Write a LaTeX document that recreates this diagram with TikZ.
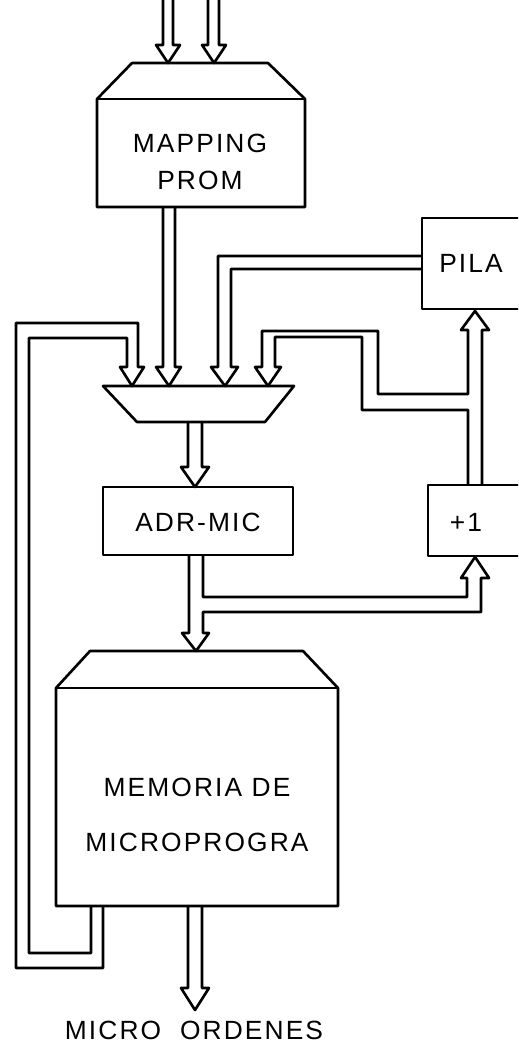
\documentclass[tikz,border=0pt]{standalone}
\usepackage{fontspec}
\newfontfamily\stencilfont[LetterSpace=8]{Liberation Sans}
\begin{document}
\begin{tikzpicture}[x=0.02cm, y=-0.02cm, line width=1.5pt, line join=round,
    lbl/.style={font={\stencilfont\fontsize{15}{21}\selectfont}, inner sep=0pt, align=center}]
    \clip (0,0) rectangle (518,1048);

    % Inputs into the mapping PROM
    \draw (163,0) -- (163,45) -- (156,45) -- (168,63) -- (180,45) -- (173,45) -- (173,0);
    \draw (208,0) -- (208,45) -- (202,45) -- (214,63) -- (226,45) -- (219,45) -- (219,0);

    % Mapping PROM
    \draw (132,63) -- (268,63) -- (305,99) -- (305,207) -- (97,207) -- (97,99) -- cycle;
    \draw (97,99) -- (305,99);
    \node[lbl] (mapping) at (200,162) {MAPPING\\PROM};

    % PILA and +1
    \draw (560,218) -- (422,218) -- (422,309) -- (560,309);
    \node[lbl] (pila) at (471,263) {PILA};
    \draw (560,485) -- (428,485) -- (428,556) -- (560,556);
    \node[lbl] (inc) at (466,522) {+1};

    % Multiplexer and its four inputs
    \draw (103,386) -- (294,386) -- (265,422) -- (137,422) -- cycle;
    \draw (91,906) -- (91,953) -- (29,953) -- (29,338) -- (127,338) -- (127,367) -- (120,367)
        -- (132,386) -- (144,367) -- (138,367) -- (138,323) -- (16,323) -- (16,968) -- (103,968) -- (103,906);
    \draw (163,207) -- (163,367) -- (156,367) -- (169,386) -- (181,367) -- (175,367) -- (175,207);
    \draw (422,256) -- (218,256) -- (218,367) -- (211,367) -- (225,386) -- (238,367) -- (231,367)
        -- (231,269) -- (422,269);
    \draw (468,485) -- (468,410) -- (362,410) -- (362,337) -- (275,337) -- (275,367) -- (281,367)
        -- (268,386) -- (255,367) -- (262,367) -- (262,331) -- (378,331) -- (378,394) -- (468,394)
        -- (468,330) -- (461,330) -- (475,311) -- (489,330) -- (482,330) -- (482,485);

    % ADR-MIC register
    \draw (188,422) -- (188,467) -- (181,467) -- (195,487) -- (209,467) -- (202,467) -- (202,422);
    \draw (103,487) rectangle (293,555);
    \node[lbl] (adr) at (198,522) {ADR-MIC};
    \draw (203,555) -- (203,597) -- (467,597) -- (467,578) -- (461,578) -- (475,557) -- (489,578)
        -- (481,578) -- (481,612) -- (203,612) -- (203,633) -- (209,633) -- (196,651) -- (182,633)
        -- (189,633) -- (189,555);

    % Microprogram memory
    \draw (90,651) -- (303,651) -- (338,688) -- (338,906) -- (56,906) -- (56,688) -- cycle;
    \draw (56,688) -- (338,688);
    \node[lbl] (mem) at (197,815) {MEMORIA DE\\[10pt]MICROPROGRA};

    % Output
    \draw (188,906) -- (188,988) -- (181,988) -- (195,1010) -- (209,988) -- (202,988) -- (202,906);
    \node[lbl] (out) at (194,1030) {MICRO\ \ ORDENES};
\end{tikzpicture}
\end{document}
